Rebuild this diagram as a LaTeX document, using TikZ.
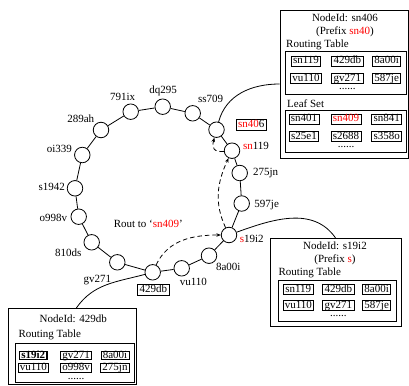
\documentclass[tikz,border=0pt]{standalone}
\usepackage{fontspec}
\setmainfont{Liberation Serif}
\usepackage{tikz}
\usetikzlibrary{positioning, arrows.meta}

\begin{document}
\begin{tikzpicture}[
		% GLOBAL CFG
		x=1pt, y=-1pt,
		font=\fontsize{11}{13}\selectfont,
		>={Stealth[length=4.5pt,width=3.5pt]},
		% Styles
		peer/.style={% ring members
			circle,
			draw,
			line width=0.8pt,
			fill=white,
			minimum size=15.5pt,
			inner sep=0pt,
		},
		peerid/.style={% ids beside the ring
			inner sep=0pt,
		},
		tag/.style={% boxed ids on the ring
			rectangle,
			draw,
			line width=0.8pt,
			inner xsep=2pt,
			inner ysep=1pt,
			text height=7.2pt,
			text depth=1.3pt,
		},
		infobox/.style={% node state boxes
			rectangle,
			draw,
			line width=0.8pt,
			fill=white,
		},
		tablebox/.style={% routing table / leaf set frame
			rectangle,
			draw,
			line width=0.8pt,
		},
		entry/.style={% one table cell
			rectangle,
			draw,
			line width=0.7pt,
			inner xsep=1.8pt,
			inner ysep=0.8pt,
			text height=7.2pt,
			text depth=1.3pt,
		},
		tight/.style={% rows packed closer
			inner ysep=0.2pt,
			text height=7pt,
			text depth=1.1pt,
		},
		hit/.style={% the chosen entry
			font=\fontsize{11}{13}\selectfont\bfseries,
			line width=1.3pt,
		},
		more/.style={% dots under a table
			inner sep=0pt,
			text height=1.5pt,
			text depth=0pt,
		},
		caption/.style={
			inner sep=0pt,
			anchor=west,
		},
		Link/.style={
			line width=0.8pt,
		},
		Route/.style={% dashed routing hops
			->,
			line width=0.8pt,
			dash pattern=on 4.5pt off 3pt,
		},
		]
		\useasboundingbox (0,0) rectangle (409,385);
		
		% Ring members named p<id>
		\node [peer] (psn406) at (216.5,129.7) {};
		\node [peer] (pss709) at (192.7,113.3) {};
		\node [peer] (pdq295) at (162.7,106.7) {};
		\node [peer] (p791ix) at (130.7,111.7) {};
		\node [peer] (p289ah) at (101,130) {};
		\node [peer] (poi339) at (82.3,155) {};
		\node [peer] (ps1942) at (75,188.3) {};
		\node [peer] (po998v) at (78.7,216.7) {};
		\node [peer] (p810ds) at (91.7,242.3) {};
		\node [peer] (pgv271) at (117.3,262.3) {};
		\node [peer] (p429db) at (152.7,272.3) {};
		\node [peer] (pvu110) at (181.7,268.3) {};
		\node [peer] (p8a00i) at (209,255.7) {};
		\node [peer] (ps19i2) at (229,235) {};
		\node [peer] (p597je) at (241.7,203.5) {};
		\node [peer] (p275jn) at (239.7,173) {};
		\node [peer] (psn119) at (232,150.7) {};
		
		% Ids named l<id>
		\node [peerid] (lss709) at (210.7,98.7) {ss709};
		\node [peerid] (ldq295) at (163,91) {dq295};
		\node [peerid] (l791ix) at (122.7,97) {791ix};
		\node [peerid] (l289ah) at (80.7,118.7) {289ah};
		\node [peerid] (loi339) at (59.3,149.3) {oi339};
		\node [peerid] (ls1942) at (51.7,187.3) {s1942};
		\node [peerid] (lo998v) at (53.3,218.3) {o998v};
		\node [peerid] (l810ds) at (68.3,252.3) {810ds};
		\node [peerid] (lgv271) at (97.3,280) {gv271};
		\node [peerid] (lvu110) at (193.3,281.7) {vu110};
		\node [peerid] (l8a00i) at (228.3,266.7) {8a00i};
		\node [peerid] (ls19i2) at (251.7,239.3) {\textcolor{red}{s}19i2};
		\node [peerid] (l597je) at (266.7,205) {597je};
		\node [peerid] (l275jn) at (265.7,172.7) {275jn};
		\node [peerid] (lsn119) at (256,146) {\textcolor{red}{sn}119};
		\node [tag] (tsn406) at (251.3,125) {\textcolor{red}{sn40}6};
		\node [tag] (t429db) at (153.3,290) {429db};
		\node (route) at (148.3,224.3) {Rout to ‘\textcolor{red}{sn409}’};
		
		% State of sn406
		\node [infobox, minimum width=128pt, minimum height=148pt] (box406) at (344,84) {};
		\node (id406) at (345,18) {NodeId: sn406};
		\node (pre406) at (345,32) {(Prefix \textcolor{red}{sn40})};
		\node [caption] (cap406) at (286,45) {Routing Table};
		\node [tablebox, minimum width=121pt, minimum height=42.6pt] (rt406) at (346.2,73) {};
		\node [entry] (rt406a) at (306,61) {sn119};
		\node [entry] (rt406b) at (347.3,61) {429db};
		\node [entry] (rt406c) at (386.7,61) {8a00i};
		\node [entry] (rt406d) at (306,78.3) {vu110};
		\node [entry] (rt406e) at (347.3,78.3) {gv271};
		\node [entry] (rt406f) at (386.7,78.3) {587je};
		\node [more] (rt406g) at (347.3,89) {......};
		\node [caption] (leaf406) at (287,103.3) {Leaf Set};
		\node [tablebox, minimum width=121pt, minimum height=42.7pt] (ls406) at (346.2,131.3) {};
		\node [entry] (ls406a) at (304,119) {sn401};
		\node [entry] (ls406b) at (346,119) {\textcolor{red}{sn409}};
		\node [entry] (ls406c) at (386.7,119) {sn841};
		\node [entry] (ls406d) at (304,136.7) {s25e1};
		\node [entry] (ls406e) at (346,136.7) {s2688};
		\node [entry] (ls406f) at (386.7,136.7) {s358o};
		\node [more] (ls406g) at (346,146.5) {......};
		
		% State of s19i2
		\node [infobox, minimum width=131pt, minimum height=88.4pt] (box19i2) at (335.5,282.5) {};
		\node (id19i2) at (335,246) {NodeId: s19i2};
		\node (pre19i2) at (335,260) {(Prefix \textcolor{red}{s})};
		\node [caption] (cap19i2) at (278.3,272.7) {Routing Table};
		\node [tablebox, minimum width=118.4pt, minimum height=41.7pt] (rt19i2) at (337.5,300.8) {};
		\node [entry] (rt19i2a) at (298.3,289.3) {sn119};
		\node [entry] (rt19i2b) at (338.3,289.3) {429db};
		\node [entry] (rt19i2c) at (376.7,289.3) {8a00i};
		\node [entry] (rt19i2d) at (298.3,305.3) {vu110};
		\node [entry] (rt19i2e) at (338.3,305.3) {gv271};
		\node [entry] (rt19i2f) at (376.7,305.3) {587je};
		\node [more] (rt19i2g) at (338.3,316) {......};
		
		% State of 429db
		\node [infobox, minimum width=128.2pt, minimum height=76.2pt] (box429db) at (72.4,346.4) {};
		\node (id429db) at (73.3,318.3) {NodeId: 429db};
		\node [caption] (cap429db) at (18.3,335) {Routing Table};
		\node [tablebox, minimum width=119pt, minimum height=38.7pt] (rt429db) at (74.5,362.7) {};
		\node [entry, tight, hit] (rt429dba) at (33.3,355.5) {s19i2};
		\node [entry, tight] (rt429dbb) at (76,355.5) {gv271};
		\node [entry, tight] (rt429dbc) at (115,355.5) {8a00i};
		\node [entry, tight] (rt429dbd) at (33.3,368) {vu110};
		\node [entry, tight] (rt429dbe) at (76,368) {o998v};
		\node [entry, tight] (rt429dbf) at (115,368) {275jn};
		\node [more] (rt429dbg) at (76,378.3) {......};
		
		% The ring
		\draw [Link] (psn406) -- (pss709) -- (pdq295) -- (p791ix) -- (p289ah) -- (poi339)
			-- (ps1942) -- (po998v) -- (p810ds) -- (pgv271) -- (p429db) -- (pvu110)
			-- (p8a00i) -- (ps19i2) -- (p597je) -- (p275jn) -- (psn119) -- (psn406);
		
		% Peers to their state
		\draw [Link] (psn406) to [out=75, in=180] (box406.west);
		\draw [Link] (ps19i2) to [out=20, in=125] (box19i2.north);
		\draw [Link] ([xshift=4pt]box429db.north) to [out=55, in=195] (p429db);
		
		% Routing hops
		\draw [Route] (p429db) to [out=65, in=180] (ps19i2);
		\draw [Route] (ps19i2) to [out=115, in=245] (psn119);
		\draw [Route] (psn119) to [out=185, in=255, looseness=1.6] (psn406);
		
	\end{tikzpicture}
\end{document}
